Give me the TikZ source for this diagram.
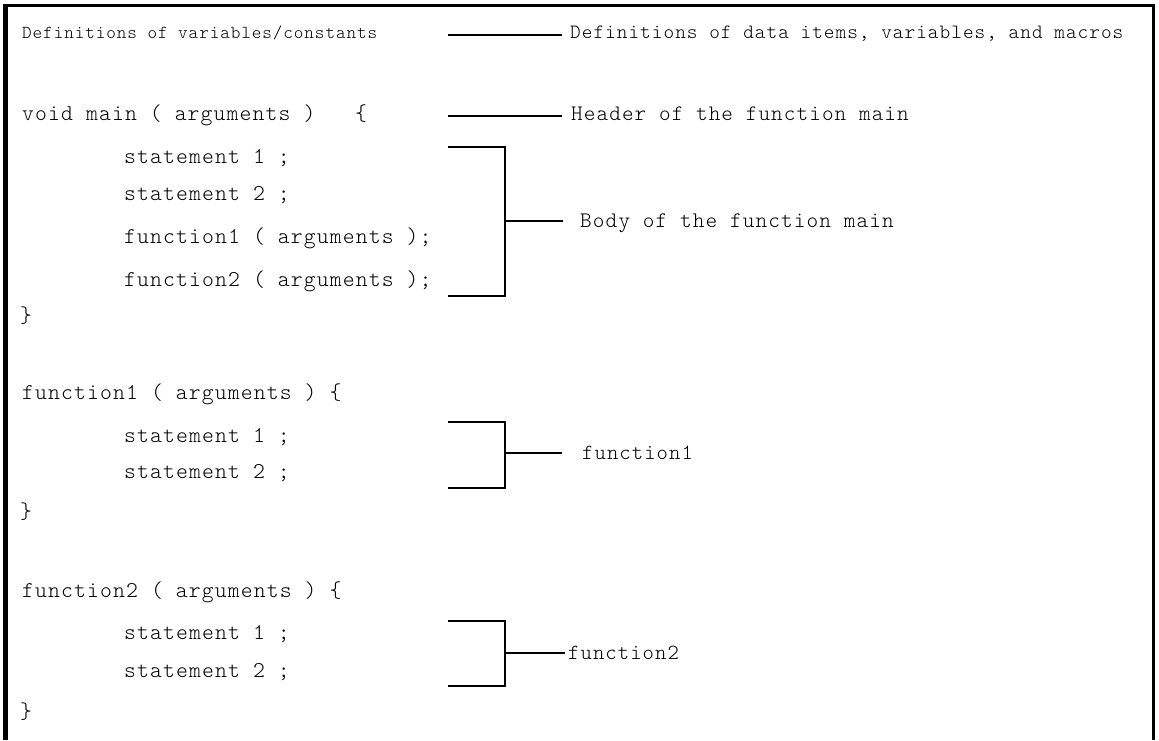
\documentclass[tikz,border=0pt]{standalone}
\usepackage{fontspec}
\setmonofont{Latin Modern Mono Light}[LetterSpace=5]
\tikzset{
  code/.style={anchor=base west,inner sep=0pt,font=\fontsize{22.6}{24}\ttfamily},
  note/.style={anchor=base west,inner sep=0pt,font=\fontsize{21.6}{24}\ttfamily},
  conn/.style={line width=2.2pt}
}
\begin{document}
\begin{tikzpicture}[x=1pt,y=-1pt]
\useasboundingbox (0,0) rectangle (1159,740);
% frame
\draw[line width=5pt] (5.8,740)--(5.8,4);
\draw[line width=3.5pt] (3.3,5.6)--(1155,5.6);
\draw[line width=2.8pt] (1153.5,4)--(1153.5,740);
% code
\node[code,font=\fontsize{18.3}{20}\ttfamily] (defs) at (22,38) {Definitions of variables/constants};
\node[code] (mainhead) at (22,120) {void main ( arguments )};
\node[code] (mainopen) at (355,120) {\{};
\node[code] (ms1) at (124,163) {statement 1 ;};
\node[code] (ms2) at (124,200) {statement 2 ;};
\node[code] (mcall1) at (124,243) {function1 ( arguments );};
\node[code] (mcall2) at (124,286) {function2 ( arguments );};
\node[code] (mainclose) at (20,322) {\}};
\node[code] (fahead) at (22,399) {function1 ( arguments ) \{};
\node[code] (fas1) at (124,442) {statement 1 ;};
\node[code] (fas2) at (124,478) {statement 2 ;};
\node[code] (faclose) at (20,518) {\}};
\node[code] (fbhead) at (22,597) {function2 ( arguments ) \{};
\node[code] (fbs1) at (124,639) {statement 1 ;};
\node[code] (fbs2) at (124,677) {statement 2 ;};
\node[code] (fbclose) at (20,718) {\}};
% notes
\node[note,font=\fontsize{20.3}{24}\ttfamily] (defsnote) at (570,38) {Definitions of data items, variables, and macros};
\node[note,font=\fontsize{22.1}{24}\ttfamily] (headnote) at (571,120) {Header of the function main};
\node[note,font=\fontsize{22.2}{24}\ttfamily] (bodynote) at (580,227) {Body of the function main};
\node[note] (fanote) at (582,459) {function1};
\node[note] (fbnote) at (568,659) {function2};
% leaders
\coordinate (defsa) at (448,35);
\coordinate (defsb) at (562,35);
\draw[conn] (defsa)--(defsb);
\coordinate (heada) at (448,116);
\coordinate (headb) at (562,116);
\draw[conn] (heada)--(headb);
% brackets
\coordinate (bodytop) at (448,147);
\coordinate (bodybot) at (448,296);
\coordinate (bodymid) at (505,221);
\coordinate (bodyend) at (563,221);
\draw[conn] (bodytop)-|(bodymid)|-(bodybot);
\draw[conn] (bodymid)--(bodyend);
\coordinate (fatop) at (448,422);
\coordinate (fabot) at (448,488);
\coordinate (famid) at (505,453);
\coordinate (faend) at (562,453);
\draw[conn] (fatop)-|(famid)|-(fabot);
\draw[conn] (famid)--(faend);
\coordinate (fbtop) at (448,621);
\coordinate (fbbot) at (448,686);
\coordinate (fbmid) at (505,653);
\coordinate (fbend) at (565,653);
\draw[conn] (fbtop)-|(fbmid)|-(fbbot);
\draw[conn] (fbmid)--(fbend);
\end{tikzpicture}
\end{document}
